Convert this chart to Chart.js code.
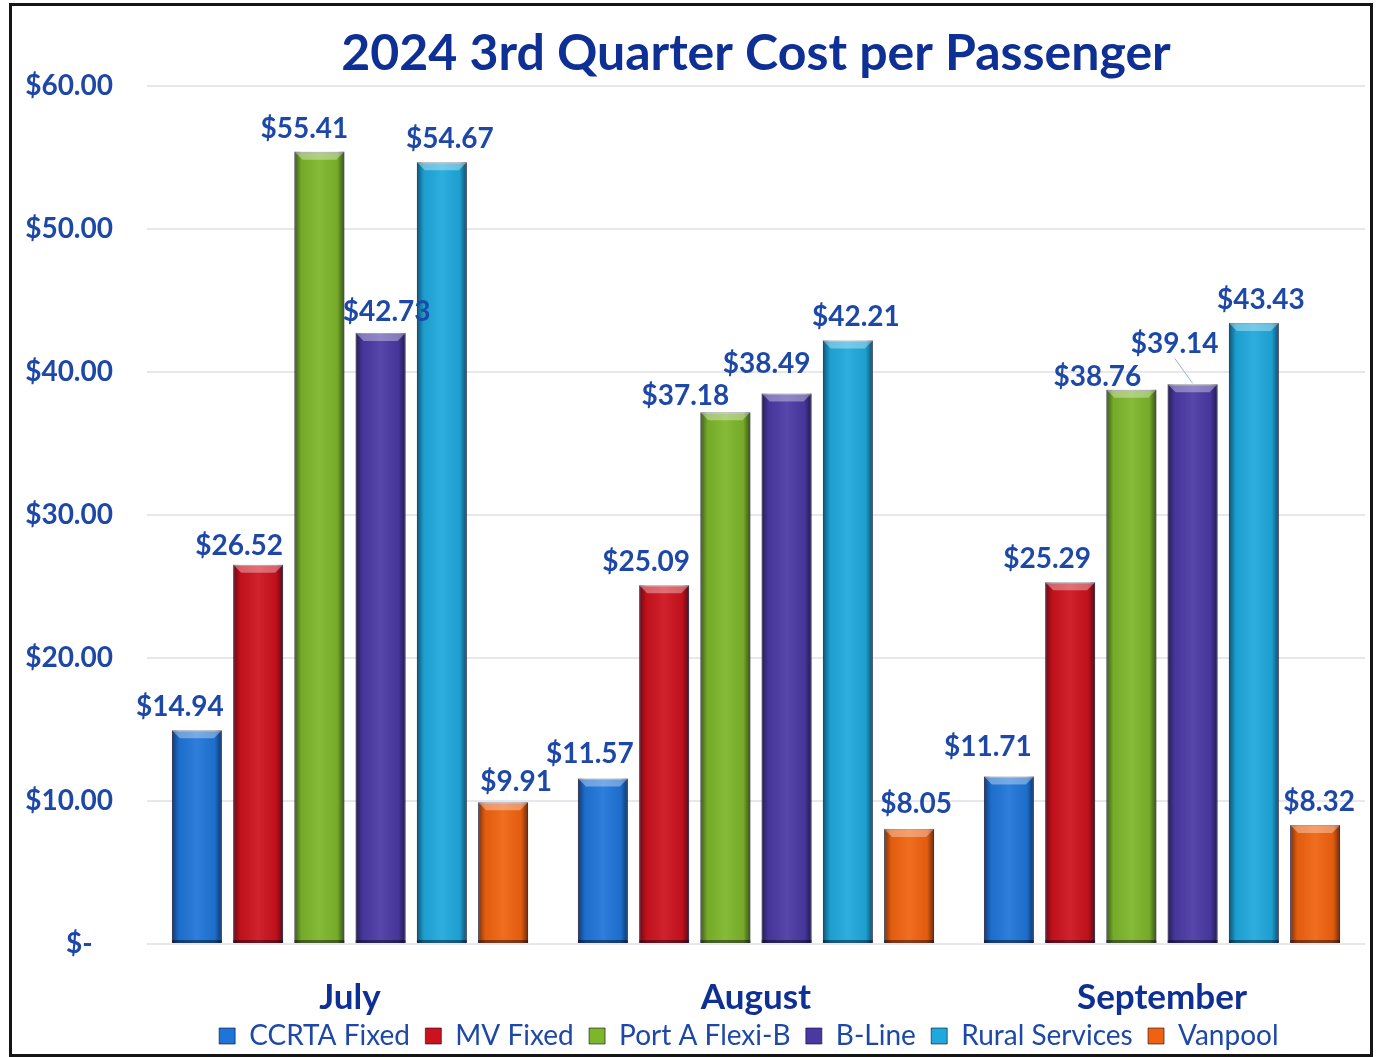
<!DOCTYPE html>
<html>
<head>
<meta charset="utf-8">
<script src="https://cdn.jsdelivr.net/npm/chart.js@4/dist/chart.umd.min.js"></script>
<style>
  html, body { margin: 0; padding: 0; background: #fff; }
  #wrap { position: relative; width: 1379px; height: 1057px; }
  #frame { position: absolute; left: 9px; top: 3px; width: 1358px; height: 1048px; border: 3px solid #151515; box-sizing: content-box; pointer-events: none; }
  canvas { position: absolute; left: 0; top: 0; }
</style>
</head>
<body>
<div id="wrap">
  <canvas id="chart" width="1379" height="1057"></canvas>
  <div id="frame"></div>
</div>
<script>
  const MONTHS = ['July', 'August', 'September'];
  const SERIES = ['CCRTA Fixed', 'MV Fixed', 'Port A Flexi-B', 'B-Line', 'Rural Services', 'Vanpool'];
  const CCRTA_FIXED = [14.94, 11.57, 11.71];
  const MV_FIXED = [26.52, 25.09, 25.29];
  const PORT_A = [55.41, 37.18, 38.76];
  const B_LINE = [42.73, 38.49, 39.14];
  const RURAL = [54.67, 42.21, 43.43];
  const VANPOOL = [9.91, 8.05, 8.32];
  const Y_TICKS = [0, 10, 20, 30, 40, 50, 60];

  const COLORS = ['#1f74d8', '#cc121d', '#7db52b', '#4a39a3', '#1ea8dc', '#f0620f'];
  const BLUE = '#1e48a8', TITLE = '#0e2f93';
  const FONT = 'Lato';

  const money = v => v === 0 ? '$-   ' : '$' + v.toFixed(2);

  // bevel look: dark sides + light top facet, drawn over the bar elements
  const bevel = {
    id: 'bevel',
    afterDatasetsDraw(chart) {
      const ctx = chart.ctx;
      chart.data.datasets.forEach((ds, i) => {
        chart.getDatasetMeta(i).data.forEach(bar => {
          const l = bar.x - bar.width / 2, r = bar.x + bar.width / 2, t = bar.y, b = bar.base;
          const g = ctx.createLinearGradient(l, 0, r, 0);
          g.addColorStop(0, 'rgba(0,0,30,0.5)');
          g.addColorStop(0.14, 'rgba(0,0,0,0.06)');
          g.addColorStop(0.5, 'rgba(255,255,255,0.07)');
          g.addColorStop(0.86, 'rgba(0,0,0,0.06)');
          g.addColorStop(1, 'rgba(0,0,30,0.55)');
          ctx.save();
          ctx.fillStyle = g;
          ctx.fillRect(l, t, r - l, b - t);
          const d = Math.min(8, (b - t) / 2);
          ctx.fillStyle = 'rgba(255,255,255,0.35)';
          ctx.beginPath();
          ctx.moveTo(l, t); ctx.lineTo(r, t); ctx.lineTo(r - d, t + d); ctx.lineTo(l + d, t + d); ctx.closePath();
          ctx.fill();
          ctx.fillStyle = 'rgba(0,0,20,0.45)';
          ctx.fillRect(l, b - 3, r - l, 3);
          ctx.restore();
        });
      });
    }
  };

  // value labels above bars; a few nudged like the hand-placed originals
  const valueLabels = {
    id: 'valueLabels',
    afterDatasetsDraw(chart, args, opts) {
      const ctx = chart.ctx;
      ctx.save();
      ctx.font = 'bold 28px ' + FONT;
      ctx.fillStyle = BLUE;
      ctx.textAlign = 'center';
      ctx.textBaseline = 'middle';
      chart.data.datasets.forEach((ds, i) => {
        chart.getDatasetMeta(i).data.forEach((bar, j) => {
          const n = opts.nudge[i + ',' + j] || [0, 0];
          const x = bar.x + n[0], y = bar.y - opts.gap + n[1];
          if (n[2]) {
            ctx.strokeStyle = '#8fb4dc';
            ctx.lineWidth = 1;
            ctx.beginPath();
            ctx.moveTo(x, y + 14);
            ctx.lineTo(bar.x, bar.y - 1);
            ctx.stroke();
          }
          ctx.fillText(money(ds.data[j]), x, y);
        });
      });
      ctx.restore();
    }
  };

  const values = [CCRTA_FIXED, MV_FIXED, PORT_A, B_LINE, RURAL, VANPOOL];

  new Chart(document.getElementById('chart'), {
    type: 'bar',
    data: {
      labels: MONTHS,
      datasets: SERIES.map((name, i) => ({
        label: name,
        data: values[i],
        backgroundColor: COLORS[i],
        borderColor: 'rgba(10,10,40,0.6)',
        borderWidth: 1,
        categoryPercentage: 0.905,
        barPercentage: 0.815
      }))
    },
    options: {
      responsive: false,
      animation: false,
      layout: { padding: { left: 22, right: 14, top: 0, bottom: -3 } },
      scales: {
        x: {
          grid: { display: false },
          border: { display: false },
          ticks: { color: TITLE, padding: 25, font: { family: FONT, size: 35, weight: 'bold' } },
          afterFit: s => { s.height = 77; }
        },
        y: {
          min: 0, max: 60,
          afterBuildTicks: axis => { axis.ticks = Y_TICKS.map(v => ({ value: v })); },
          grid: { color: '#e8e8ec', lineWidth: 2, drawTicks: false },
          border: { display: false },
          ticks: { color: BLUE, padding: 34, font: { family: FONT, size: 28, weight: 'bold' }, callback: v => money(v) },
          afterFit: s => { s.width = 125; }
        }
      },
      plugins: {
        title: {
          display: true,
          fullSize: false,
          text: '2024 3rd Quarter Cost per Passenger',
          color: TITLE,
          font: { family: FONT, size: 50, weight: 'bold' },
          padding: { top: 24, bottom: 2 }
        },
        legend: {
          position: 'bottom',
          fullSize: false,
          labels: {
            color: BLUE,
            boxWidth: 16, boxHeight: 16, padding: 1,
            font: { family: FONT, size: 28, lineHeight: 1 },
            generateLabels: chart => Chart.defaults.plugins.legend.labels.generateLabels(chart)
              .map(item => Object.assign(item, { text: item.text + '  ' }))
          }
        },
        tooltip: { enabled: false },
        valueLabels: {
          gap: 23,
          nudge: {
            '0,0': [-17, 0], '1,0': [-19, 4], '2,0': [-15, 0], '3,0': [6, 2], '4,0': [8, 0], '5,0': [13, 3],
            '0,1': [-13, -2], '1,1': [-18, 0], '2,1': [-40, 7], '3,1': [-20, -7], '4,1': [8, 0], '5,1': [7, -2],
            '0,2': [-21, -7], '1,2': [-23, 0], '2,2': [-34, 10], '3,2': [-18, -17, 1], '4,2': [7, 0], '5,2': [4, 0]
          }
        }
      }
    },
    plugins: [bevel, valueLabels]
  });
</script>
</body>
</html>
